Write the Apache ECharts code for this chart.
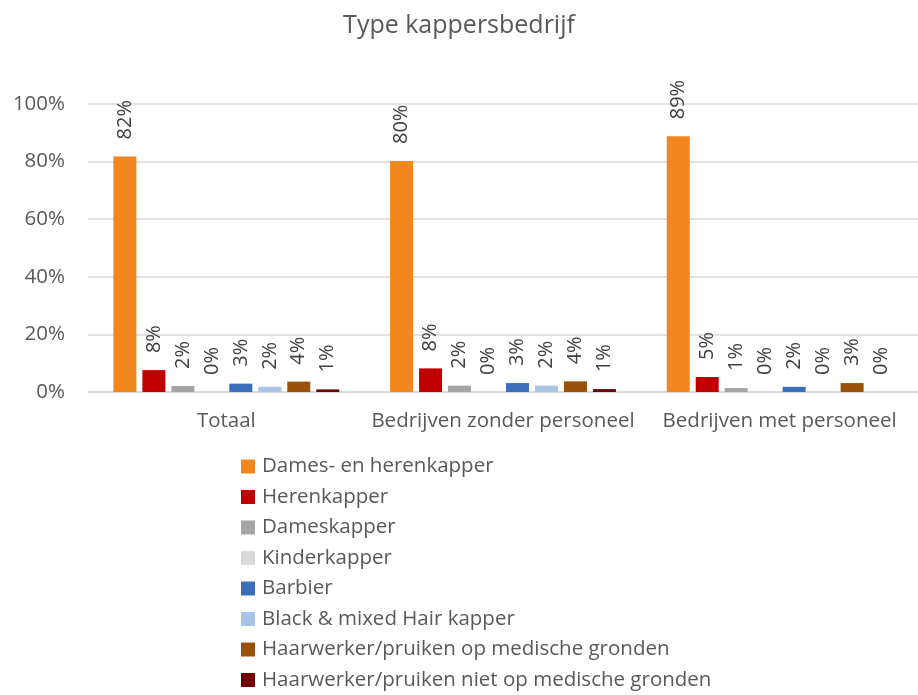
<!DOCTYPE html>
<html>
<head>
<meta charset="utf-8">
<script src="https://cdn.jsdelivr.net/npm/echarts@6/dist/echarts.min.js"></script>
<style>
  html, body { margin: 0; padding: 0; background: #fff; }
  #chart { width: 918px; height: 695px; }
</style>
</head>
<body>
<div id="chart"></div>
<script>
var categories = ['Totaal', 'Bedrijven zonder personeel', 'Bedrijven met personeel'];
var seriesNames = [
  'Dames- en herenkapper',
  'Herenkapper',
  'Dameskapper',
  'Kinderkapper',
  'Barbier',
  'Black & mixed Hair kapper',
  'Haarwerker/pruiken op medische gronden',
  'Haarwerker/pruiken niet op medische gronden'
];
// percentages per type, in order of categories
var damesHeren = [81.8, 80.2, 88.8];
var heren = [7.6, 8.2, 5.2];
var dames = [2.1, 2.2, 1.4];
var kinder = [0, 0, 0];
var barbier = [2.9, 3.1, 1.8];
var blackMixed = [1.8, 2.2, 0];
var haarMedisch = [3.6, 3.7, 3.1];
var haarNietMedisch = [0.9, 1.0, 0];
var yTicks = [0, 20, 40, 60, 80, 100];

var values = [damesHeren, heren, dames, kinder, barbier, blackMixed, haarMedisch, haarNietMedisch];
var colors = ['#F0881F', '#C00000', '#A5A5A5', '#D9D9D9', '#3C6FBA', '#A9C5E6', '#9A520B', '#6E0000'];

(function(){
  var font = "'Open Sans', sans-serif";
  var myChart = echarts.init(document.getElementById('chart'));
  var series = seriesNames.map(function (name, i) {
    return {
      name: name,
      type: 'bar',
      data: values[i],
      barWidth: 23,
      barGap: '26%',
      itemStyle: { color: colors[i] },
      label: {
        show: true,
        position: 'top',
        rotate: 90,
        align: 'left',
        verticalAlign: 'middle',
        distance: 17,
        fontFamily: font,
        fontSize: 20,
        color: '#404040',
        formatter: function (p) {
          return Math.round(p.value) + '%';
        }
      }
    };
  });
  var option = {
    animation: false,
    color: colors,
    title: {
      text: 'Type kappersbedrijf',
      left: 'center',
      top: 8,
      textStyle: { fontFamily: font, fontSize: 25, fontWeight: 'normal', color: '#595959' }
    },
    legend: {
      orient: 'vertical',
      left: 241,
      top: 456,
      height: 250,
      padding: 0,
      itemWidth: 14,
      itemHeight: 14,
      itemGap: 9.5,
      icon: 'rect',
      textStyle: { fontFamily: font, fontSize: 20.5, color: '#595959', padding: [0, 0, 0, 2] },
      data: seriesNames
    },
    grid: {
      left: 88,
      right: -2,
      top: 104,
      bottom: 303,
      containLabel: false
    },
    xAxis: {
      type: 'category',
      data: categories,
      axisLine: { lineStyle: { color: '#D9D9D9', width: 1.5 } },
      axisTick: { show: false },
      axisLabel: { interval: 0, fontFamily: font, fontSize: 20.5, color: '#595959', margin: 19 }
    },
    yAxis: {
      type: 'value',
      min: yTicks[0],
      max: yTicks[yTicks.length - 1],
      interval: yTicks[1] - yTicks[0],
      axisLine: { show: false },
      axisTick: { show: false },
      splitLine: { lineStyle: { color: '#D9D9D9', width: 1.5 } },
      axisLabel: {
        fontFamily: font,
        fontSize: 20.5,
        color: '#595959',
        margin: 23,
        formatter: '{value}%'
      }
    },
    series: series
  };
  myChart.setOption(option);
  window.addEventListener('resize', function() {
    myChart.resize();
  });
})();
</script>
</body>
</html>
